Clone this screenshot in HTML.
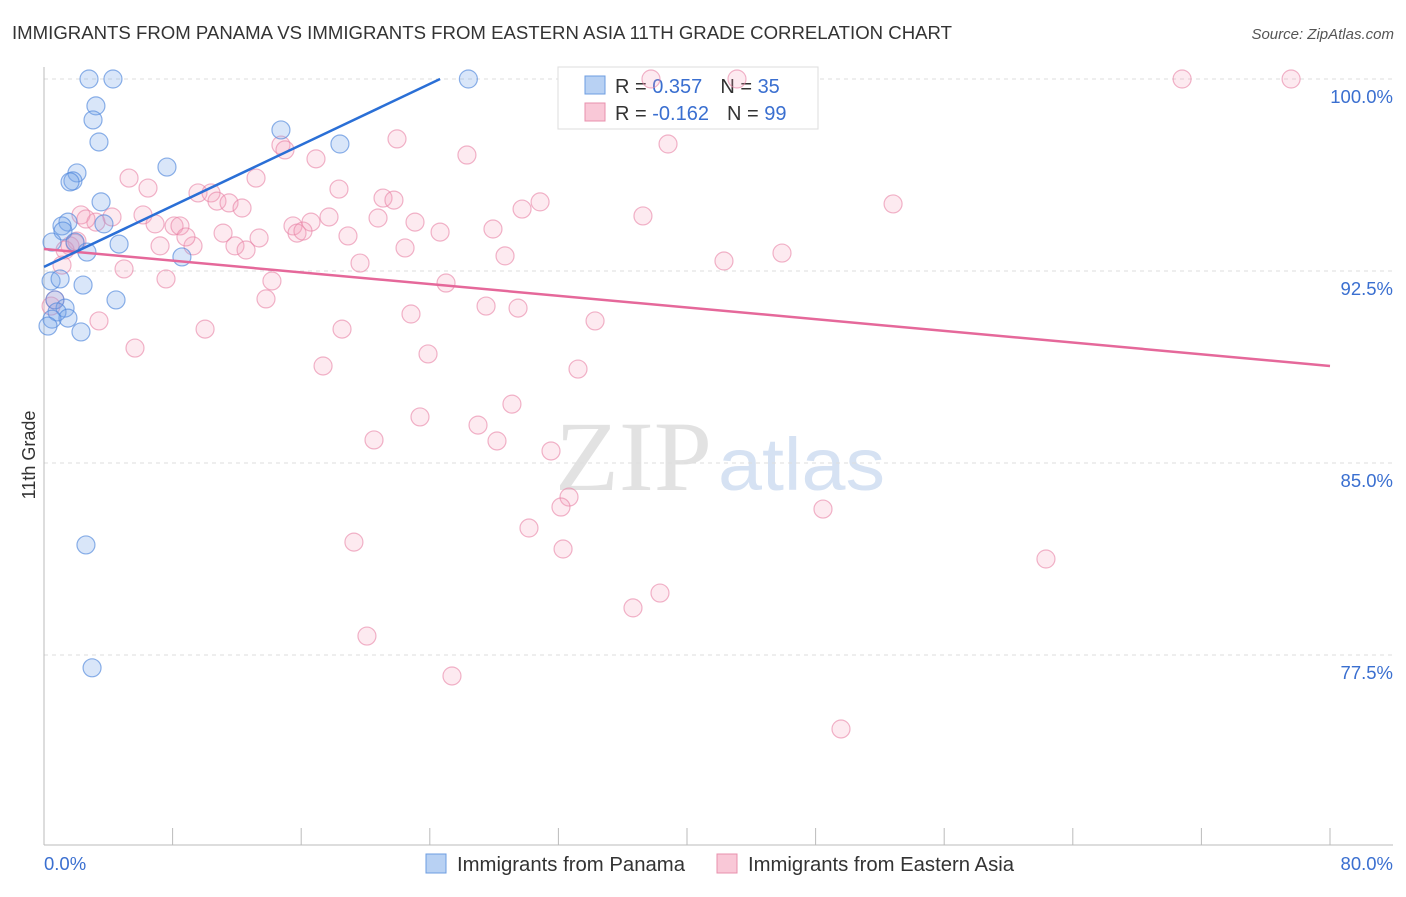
<!DOCTYPE html>
<html><head><meta charset="utf-8"><style>
body{margin:0;background:#fff;font-family:"Liberation Sans",sans-serif;}
svg text{font-family:"Liberation Sans",sans-serif;}
</style></head><body>
<svg width="1406" height="892">
<text x="12" y="39" font-size="18" fill="#333" textLength="940" lengthAdjust="spacingAndGlyphs">IMMIGRANTS FROM PANAMA VS IMMIGRANTS FROM EASTERN ASIA 11TH GRADE CORRELATION CHART</text>
<text x="1394" y="39" font-size="15" fill="#555" font-style="italic" text-anchor="end">Source: ZipAtlas.com</text>
<text x="555" y="490" font-size="100" fill="#e2e2e2" textLength="157" lengthAdjust="spacingAndGlyphs" style="font-family:'Liberation Serif',serif">ZIP</text>
<text x="718" y="490" font-size="74" fill="#d6e2f3" textLength="167" lengthAdjust="spacingAndGlyphs">atlas</text>
<g id="grid"></g>
<g id="axes"></g>
<g>
<rect x="558" y="67" width="260" height="62" fill="#fff" stroke="#ddd"/>
<rect x="585" y="76" width="20" height="18" fill="#b8d1f3" stroke="#6d9de0"/>
<text x="615" y="93" font-size="20" fill="#333">R = <tspan fill="#3a6fd0"> 0.357</tspan><tspan dx="18">N = </tspan><tspan fill="#3a6fd0">35</tspan></text>
<rect x="585" y="103" width="20" height="18" fill="#f9c8d7" stroke="#e890ac"/>
<text x="615" y="120" font-size="20" fill="#333">R = <tspan fill="#3a6fd0">-0.162</tspan><tspan dx="18">N = </tspan><tspan fill="#3a6fd0">99</tspan></text>
</g>
<g id="marks"></g>
<text x="35" y="455" font-size="18" fill="#333" text-anchor="middle" transform="rotate(-90 35 455)">11th Grade</text>
<g>
<rect x="426" y="854" width="20" height="19" fill="#b8d1f3" stroke="#6d9de0"/>
<text x="457" y="871" font-size="20" fill="#333" textLength="228" lengthAdjust="spacingAndGlyphs">Immigrants from Panama</text>
<rect x="717" y="854" width="20" height="19" fill="#f9c8d7" stroke="#e890ac"/>
<text x="748" y="871" font-size="20" fill="#333" textLength="266" lengthAdjust="spacingAndGlyphs">Immigrants from Eastern Asia</text>
</g>
</svg>
<script>
const xTicks=[0,80];
const yTicks=[100,92.5,85,77.5];
const blueX=[2.80,4.29,26.4,3.23,3.05,3.42,14.74,18.41,7.65,2.05,1.80,1.62,3.55,1.49,1.12,3.73,1.18,1.93,4.67,0.50,2.67,8.58,0.44,1.0,2.43,4.48,0.68,1.31,0.81,1.49,0.5,0.25,2.3,2.61,2.99];
const blueY=[100,100,100,98.95,98.4,97.54,98.01,97.46,96.56,96.33,96.02,95.98,95.2,94.41,94.26,94.34,94.06,93.63,93.55,93.63,93.24,93.05,92.11,92.19,91.95,91.37,91.37,91.05,90.9,90.66,90.62,90.35,90.12,81.8,77.0];
const pinkX=[37.76,43.11,70.8,77.58,21.96,14.74,14.99,26.31,38.82,16.92,5.29,13.19,6.47,18.35,9.58,10.39,10.76,11.51,21.09,21.77,30.86,29.74,12.32,52.82,6.16,2.3,4.23,3.23,2.61,37.26,17.73,20.78,23.08,6.91,8.09,8.46,15.49,16.61,15.74,16.11,11.14,24.64,27.93,18.91,13.38,7.22,9.27,11.88,12.57,22.46,8.83,2.05,1.62,1.31,45.91,28.68,19.66,42.3,4.98,1.12,14.18,7.59,25.01,27.5,29.49,13.81,22.83,34.28,3.42,10.02,18.54,5.66,23.89,17.36,33.22,29.11,23.39,27.0,20.53,28.18,31.54,32.66,32.16,48.46,30.17,19.28,32.29,62.33,38.32,36.64,20.09,25.38,49.58,0.44,0.68,1.93];
const pinkY=[100,100,100,100,97.66,97.42,97.23,97.03,97.46,96.88,96.13,96.13,95.74,95.7,95.55,95.55,95.23,95.16,95.35,95.27,95.2,94.92,94.96,95.12,94.69,94.69,94.61,94.41,94.53,94.65,94.61,94.57,94.41,94.34,94.26,94.26,94.26,94.41,93.98,94.06,93.98,94.02,94.14,93.87,93.79,93.48,93.48,93.48,93.32,93.4,93.83,93.67,93.48,93.32,93.2,93.09,92.81,92.89,92.58,92.73,92.11,92.19,92.03,91.13,91.05,91.41,90.82,90.55,90.55,90.23,90.23,89.49,89.26,88.79,88.67,87.3,86.8,86.48,85.9,85.86,85.47,83.67,83.28,83.2,82.46,81.91,81.64,81.25,79.92,79.34,78.24,76.68,74.61,91.13,91.37,93.59];
const blueTrendX=[0,24.64];
const blueTrendY=[92.66,100];
const pinkTrendX=[0,80];
const pinkTrendY=[93.36,88.79];

const NS="http://www.w3.org/2000/svg";
const X=v=>44+v/80*1286;
const Y=v=>79+(100-v)*25.6;
function mk(tag,attrs,parent){const e=document.createElementNS(NS,tag);for(const k in attrs)e.setAttribute(k,attrs[k]);document.getElementById(parent).appendChild(e);return e;}

yTicks.forEach(t=>{
  const g=mk('line',{x1:44,x2:1393,y1:Y(t),y2:Y(t),stroke:'#ddd','stroke-dasharray':'4,4'},'grid');
  
  
  const tx=mk('text',{x:1393,y:Y(t)+24,'font-size':18.5,fill:'#3a6fd0','text-anchor':'end'},'grid');
  tx.textContent=t.toFixed(1)+'%';
  
  
});
const ax=mk('line',{x1:44,x2:44,y1:67,y2:845,stroke:'#bbb'},'axes');


const bx=mk('line',{x1:44,x2:1393,y1:845,y2:845,stroke:'#bbb'},'axes');


for(let i=0;i<=10;i++){
  const t=mk('line',{x1:X(i*8),x2:X(i*8),y1:828,y2:845,stroke:'#bbb'},'axes');
  
  
}
xTicks.forEach((t,i)=>{
  const tx=mk('text',{x:i==0?44:1393,y:870,'font-size':18.5,fill:'#3a6fd0','text-anchor':i==0?'start':'end'},'axes');
  tx.textContent=t.toFixed(1)+'%';
  
  
});
pinkX.forEach((x,i)=>{
  const c=mk('circle',{cx:X(x),cy:Y(pinkY[i]),r:9,fill:'rgba(244,160,188,0.22)',stroke:'rgba(232,130,165,0.6)','stroke-width':1.2},'marks');
  
  
});
blueX.forEach((x,i)=>{
  const c=mk('circle',{cx:X(x),cy:Y(blueY[i]),r:9,fill:'rgba(120,165,235,0.28)',stroke:'rgba(80,135,220,0.65)','stroke-width':1.2},'marks');
  
  
});
const pl=mk('line',{x1:X(pinkTrendX[0]),y1:Y(pinkTrendY[0]),x2:X(pinkTrendX[1]),y2:Y(pinkTrendY[1]),stroke:'#e5689a','stroke-width':2.5},'marks');


const bl=mk('line',{x1:X(blueTrendX[0]),y1:Y(blueTrendY[0]),x2:X(blueTrendX[1]),y2:Y(blueTrendY[1]),stroke:'#2a6fd6','stroke-width':2.5},'marks');


</script>
</body></html>
